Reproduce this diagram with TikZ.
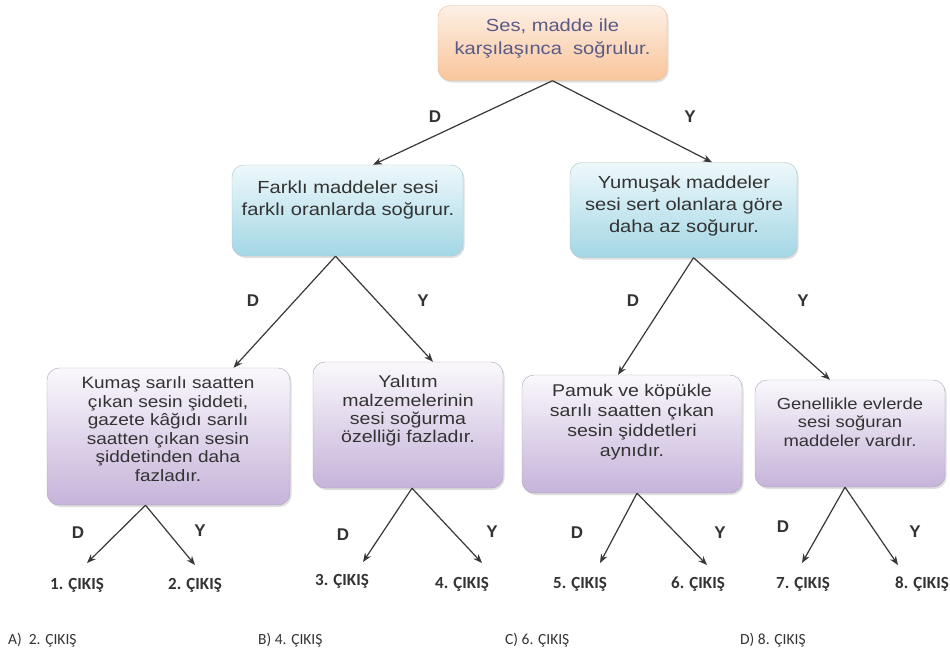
\documentclass[tikz,border=0pt]{standalone}
\usepackage{fontspec}
\setmainfont{Liberation Sans}
\newfontfamily\boxfont[FakeStretch=1.15]{Liberation Sans}
\newfontfamily\calib{Carlito}
\usetikzlibrary{arrows.meta,shadows}
\definecolor{peachtop}{HTML}{FEF0E6}
\definecolor{peachbot}{HTML}{F8C59A}
\definecolor{peachline}{HTML}{E6BFA2}
\definecolor{cyantop}{HTML}{EEF8FB}
\definecolor{cyanbot}{HTML}{A3D7E5}
\definecolor{cyanline}{HTML}{A9C3CB}
\definecolor{lavtop}{HTML}{FAF8FC}
\definecolor{lavbot}{HTML}{C6B3DA}
\definecolor{lavline}{HTML}{ABA3B5}
\definecolor{toptxt}{HTML}{5A5A88}
\definecolor{boxtxt}{HTML}{333333}
\definecolor{arr}{HTML}{383838}
\tikzset{
  box/.style={rounded corners=12pt, inner sep=0pt,
    drop shadow={shadow xshift=1.5pt, shadow yshift=-2pt, opacity=0.25}},
  topbox/.style={box, draw=peachline, top color=peachtop, bottom color=peachbot},
  midbox/.style={box, draw=cyanline, top color=cyantop, bottom color=cyanbot},
  lowbox/.style={box, draw=lavline, top color=lavtop, bottom color=lavbot},
  btxt/.style={align=center, inner sep=0pt, text=boxtxt},
  conn/.style={draw=arr, line width=1.2pt, -{Stealth[length=9pt,width=7pt]}},
  dy/.style={font=\bfseries\fontsize{17}{17}\selectfont, text=boxtxt, inner sep=0pt},
  outlbl/.style={font=\calib\bfseries\fontsize{17}{17}\selectfont, text=boxtxt, inner sep=0pt},
  ans/.style={font=\calib\fontsize{15.5}{16}\selectfont, text=boxtxt, inner sep=0pt, anchor=west}
}
\begin{document}
\begin{tikzpicture}[x=1pt,y=-1pt]
\useasboundingbox[fill=white] (0,0) rectangle (950,661);

% boxes
\node[topbox, minimum width=229pt, minimum height=75pt] (top) at (552.5,43) {};
\node[midbox, minimum width=231pt, minimum height=91pt] (midL) at (347.5,210.5) {};
\node[midbox, minimum width=227pt, minimum height=95pt] (midR) at (683.5,210) {};
\node[lowbox, minimum width=243pt, minimum height=137pt] (L1) at (168.5,436.5) {};
\node[lowbox, minimum width=190pt, minimum height=126pt] (L2) at (408,425) {};
\node[lowbox, minimum width=220pt, minimum height=118pt] (L3) at (632,434) {};
\node[lowbox, minimum width=190pt, minimum height=107pt] (L4) at (850,433.5) {};

% box texts
\node[btxt, text=toptxt, font=\boxfont\fontsize{17.5}{23}\selectfont] (topt) at (552.5,39) {Ses, madde ile\\karşılaşınca\ \ soğrulur.};
\node[btxt, font=\boxfont\fontsize{17.5}{21.5}\selectfont] (midLt) at (348,200) {Farklı maddeler sesi\\farklı oranlarda soğurur.};
\node[btxt, font=\boxfont\fontsize{17.5}{22}\selectfont] (midRt) at (684,206) {Yumuşak maddeler\\sesi sert olanlara göre\\daha az soğurur.};
\node[btxt, font=\boxfont\fontsize{16.5}{18.6}\selectfont] (L1t) at (168,429) {Kumaş sarılı saatten\\çıkan sesin şiddeti,\\gazete kâğıdı sarılı\\saatten çıkan sesin\\şiddetinden daha\\fazladır.};
\node[btxt, font=\boxfont\fontsize{17}{18.3}\selectfont] (L2t) at (408,411) {Yalıtım\\malzemelerinin\\sesi soğurma\\özelliği fazladır.};
\node[btxt, font=\boxfont\fontsize{17}{19.8}\selectfont] (L3t) at (632,422) {Pamuk ve köpükle\\sarılı saatten çıkan\\sesin şiddetleri\\aynıdır.};
\node[btxt, font=\boxfont\fontsize{16}{18.5}\selectfont] (L4t) at (850,422) {Genellikle evlerde\\sesi soğuran\\maddeler vardır.};

% connectors level 1
\draw[conn] (top.south) -- ([xshift=25.5pt]midL.north);
\draw[conn] (top.south) -- ([xshift=28.5pt]midR.north);
\node[dy] (d0) at (435,117) {D};
\node[dy] (y0) at (690,117) {Y};

% level 2
\draw[conn] ([xshift=-12pt]midL.south) -- ([xshift=65pt]L1.north);
\draw[conn] ([xshift=-12pt]midL.south) -- ([xshift=25pt]L2.north);
\draw[conn] ([xshift=10pt]midR.south) -- ([xshift=-14pt]L3.north);
\draw[conn] ([xshift=10pt]midR.south) -- ([xshift=-20pt]L4.north);
\node[dy] (d1) at (253,301) {D};
\node[dy] (y1) at (423,301) {Y};
\node[dy] (d2) at (633,301) {D};
\node[dy] (y2) at (803,301) {Y};

% outputs
\coordinate (t1) at (87,563);
\coordinate (t2) at (195,565);
\coordinate (t3) at (363,562);
\coordinate (t4) at (482,563);
\coordinate (t5) at (600,563);
\coordinate (t6) at (707,565);
\coordinate (t7) at (802,563);
\coordinate (t8) at (898,565);
\draw[conn] ([xshift=-23pt]L1.south) -- (t1);
\draw[conn] ([xshift=-23pt]L1.south) -- (t2);
\draw[conn] ([xshift=4pt]L2.south) -- (t3);
\draw[conn] ([xshift=4pt]L2.south) -- (t4);
\draw[conn] ([xshift=5pt]L3.south) -- (t5);
\draw[conn] ([xshift=5pt]L3.south) -- (t6);
\draw[conn] ([xshift=-5pt]L4.south) -- (t7);
\draw[conn] ([xshift=-5pt]L4.south) -- (t8);

\node[dy] (d3) at (78,533) {D};
\node[dy] (y3) at (200,531) {Y};
\node[dy] (d4) at (343,535) {D};
\node[dy] (y4) at (492,532) {Y};
\node[dy] (d5) at (577,533) {D};
\node[dy] (y5) at (720,533) {Y};
\node[dy] (d6) at (783,527) {D};
\node[dy] (y6) at (915,532) {Y};

\node[outlbl] (o1) at (77,585) {1. ÇIKIŞ};
\node[outlbl] (o2) at (195,585) {2. ÇIKIŞ};
\node[outlbl] (o3) at (342,581) {3. ÇIKIŞ};
\node[outlbl] (o4) at (462,584) {4. ÇIKIŞ};
\node[outlbl] (o5) at (580,584) {5. ÇIKIŞ};
\node[outlbl] (o6) at (698,584) {6. ÇIKIŞ};
\node[outlbl] (o7) at (803,584) {7. ÇIKIŞ};
\node[outlbl] (o8) at (922,584) {8. ÇIKIŞ};

% answers
\node[ans] (a) at (8,640) {A)\ \ 2. ÇIKIŞ};
\node[ans] (b) at (258,640) {B) 4. ÇIKIŞ};
\node[ans] (c) at (505,640) {C) 6. ÇIKIŞ};
\node[ans] (d) at (740,640) {D) 8. ÇIKIŞ};
\end{tikzpicture}
\end{document}
